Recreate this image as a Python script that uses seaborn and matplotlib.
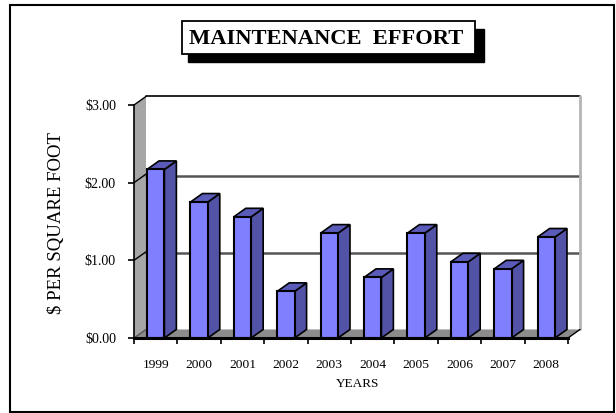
import matplotlib
matplotlib.use("Agg")
import matplotlib.pyplot as plt
from matplotlib.patches import Polygon, Rectangle
import pandas as pd
import seaborn as sns

years = ["1999", "2000", "2001", "2002", "2003", "2004", "2005", "2006", "2007", "2008"]
cost = [2.17, 1.75, 1.56, 0.60, 1.35, 0.78, 1.35, 0.98, 0.89, 1.30]
y_ticks = [0, 1, 2, 3]
y_labels = ["$0.00", "$1.00", "$2.00", "$3.00"]

W, H = 616, 413
# depth of the fake 3d box, in data units
DX = 0.2765
DY = 0.11

sns.set_theme(style="white")
plt.rcParams['font.family'] = ['Liberation Serif', 'DejaVu Serif']


def px_rect(x0, y0, x1, y1, **kw):
    # rectangle on the figure given in image pixels
    return Rectangle((x0 / W, 1 - y1 / H), (x1 - x0) / W, (y1 - y0) / H,
                     transform=fig.transFigure, **kw)


df = pd.DataFrame({"year": years, "cost": cost})

fig = plt.figure(figsize=(W / 100, H / 100), dpi=100, facecolor="white")
ax = fig.add_axes([134 / W, 1 - 338 / H, 434 / W, 233 / H])
ax.patch.set_alpha(0)

sns.barplot(data=df, x="year", y="cost", color="#8080ff", saturation=1,
            width=0.4, edgecolor="black", linewidth=1.5, ax=ax, zorder=5)
bars = list(ax.patches)

x0, x1 = -0.5, 9.5
ax.set_xlim(x0, x1)
ax.set_ylim(0, 3)

# walls and floor
ax.add_patch(Polygon([(x0, 0), (x0 + DX, DY), (x0 + DX, 3 + DY), (x0, 3)],
                     closed=True, fc="#a6a6a6", ec="none", clip_on=False, zorder=1))
ax.add_patch(Polygon([(x0, 0), (x0 + DX, DY), (x1 + DX, DY), (x1, 0)],
                     closed=True, fc="#8c8c8c", ec="none", clip_on=False, zorder=1))
for v in y_ticks[1:3]:
    ax.plot([x0 + DX, x1 + DX], [v + 0.09, v + 0.09], color="#555555", lw=1.8,
            clip_on=False, zorder=2)
ax.plot([x0 + DX, x1 + DX], [3 + DY, 3 + DY], color="black", lw=1.2, clip_on=False, zorder=2)
ax.plot([x1 + DX, x1 + DX], [DY, 3 + DY], color="#b4b4b4", lw=2, clip_on=False, zorder=2)
# slanted corners
ax.plot([x1, x1 + DX], [0, DY], color="black", lw=1, clip_on=False, zorder=2)
for v in y_ticks[1:]:
    ax.plot([x0, x0 + DX], [v, v + DY], color="black", lw=1, clip_on=False, zorder=3)
ax.plot([x0, x0 + DX], [0, DY], color="#555555", lw=1, clip_on=False, zorder=3)

# side and top faces of each bar
for bar in bars:
    left = bar.get_x()
    right = left + bar.get_width()
    top = bar.get_height()
    ax.add_patch(Polygon([(right, 0), (right + DX, DY), (right + DX, top + DY), (right, top)],
                         closed=True, fc="#5252a6", ec="black", lw=1.2, clip_on=False, zorder=4))
    ax.add_patch(Polygon([(left, top), (left + DX, top + DY), (right + DX, top + DY), (right, top)],
                         closed=True, fc="#5a5ab8", ec="black", lw=1.2, clip_on=False, zorder=4))

sns.despine(ax=ax, top=True, right=True)
ax.spines["left"].set_color("black")
ax.spines["left"].set_linewidth(1.2)
ax.spines["left"].set_zorder(6)
ax.spines["bottom"].set_color("black")
ax.spines["bottom"].set_linewidth(2.2)
ax.spines["bottom"].set_zorder(6)

ax.set_yticks(y_ticks)
ax.set_yticklabels(y_labels, fontsize=10, color="black")
ax.set_xticks([i - 0.5 for i in range(len(years) + 1)], minor=True)
ax.set_xticks(range(len(years)))
ax.set_xticklabels(years, fontsize=9.7, color="black")
ax.tick_params(axis="x", which="major", length=0, pad=15)
ax.tick_params(axis="x", which="minor", length=4, width=1.2, color="black", bottom=True)
ax.tick_params(axis="y", length=4, width=1.2, color="black", left=True, pad=9)
ax.set_xlabel("")
ax.set_ylabel("")

fig.text(358 / W, 1 - 384 / H, "YEARS", ha="center", va="center", fontsize=9.5, color="black")
fig.text(57 / W, 1 - 223 / H, "$ PER SQUARE FOOT", ha="center", va="center",
         rotation=90, fontsize=13.5, color="black")

# outer frame
fig.add_artist(px_rect(10, 5, 614, 412, fc="none", ec="black", lw=1.5))

# title box with its shadow
fig.add_artist(px_rect(188, 29, 484, 62, fc="black", ec="black", lw=1))
fig.add_artist(px_rect(181.5, 21, 475, 54, fc="white", ec="black", lw=1.3))
fig.text(326.5 / W, 1 - 38.5 / H, "MAINTENANCE  EFFORT", ha="center", va="center",
         fontsize=16.2, fontweight="bold", color="black")

fig.savefig("out.png", dpi=100)
